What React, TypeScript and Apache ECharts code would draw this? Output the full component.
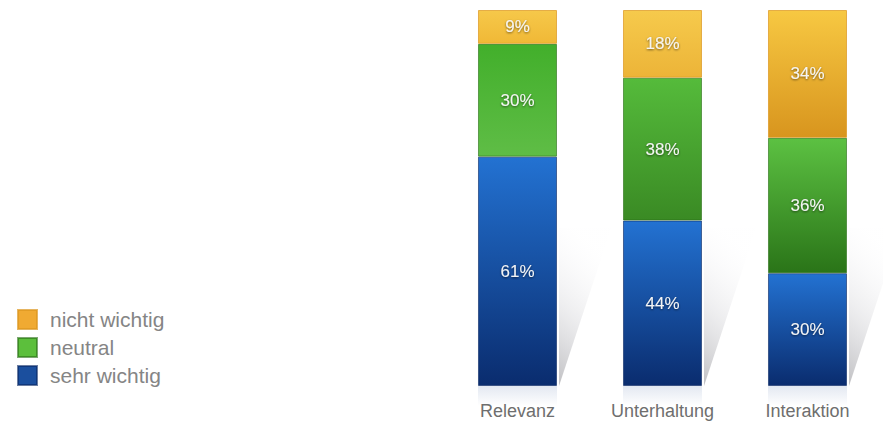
import React, { useEffect, useRef } from "react";
import * as echarts from "echarts";

const CATEGORIES = ["Relevanz", "Unterhaltung", "Interaktion"];
const SEHR_WICHTIG = [61, 44, 30];
const NEUTRAL = [30, 38, 36];
const NICHT_WICHTIG = [9, 18, 34];
const SERIES_NAMES = ["nicht wichtig", "neutral", "sehr wichtig"];

const grad = (top: string, bottom: string) =>
  new echarts.graphic.LinearGradient(0, 0, 0, 1, [
    { offset: 0, color: top },
    { offset: 1, color: bottom },
  ]);

const GREEN_GRADS = [
  ["#42af2b", "#5fbd46"],
  ["#55bb3b", "#3a8a24"],
  ["#5cc142", "#2a7418"],
];
const YELLOW_GRADS = [
  ["#f6c84a", "#f0b836"],
  ["#f6ca4c", "#ecb438"],
  ["#f7c842", "#d8951e"],
];

const FONT = "Liberation Sans, Arial, sans-serif";

export default function App() {
  const ref = useRef<HTMLDivElement>(null);
  useEffect(() => {
    if (!ref.current) return;
    const chart = echarts.init(ref.current, null, { renderer: "svg" });
    const label = {
      show: true,
      position: "inside" as const,
      formatter: "{c}%",
      color: "#f4f4f4",
      fontSize: 17,
      fontFamily: FONT,
      textShadowColor: "rgba(0,0,0,0.55)",
      textShadowBlur: 2,
      textShadowOffsetY: 1,
    };
    const BAR_RATIO = 0.545;
    chart.setOption({
      animation: false,
      backgroundColor: "#ffffff",
      grid: { left: 445, width: 435, top: 10, height: 376, containLabel: false },
      legend: {
        orient: "vertical",
        left: 12,
        top: 304,
        icon: "rect",
        itemWidth: 19,
        itemHeight: 19,
        itemGap: 7,
        textStyle: {
          fontSize: 21,
          color: "#858585",
          fontFamily: FONT,
          padding: [0, 0, 0, 8],
        },
        data: [
          { name: SERIES_NAMES[0], itemStyle: { color: "#f0aa32" } },
          { name: SERIES_NAMES[1], itemStyle: { color: "#5cbf3c" } },
          { name: SERIES_NAMES[2], itemStyle: { color: "#1b4f9e" } },
        ],
        selectedMode: false,
      },
      xAxis: {
        type: "category",
        data: CATEGORIES,
        axisLine: { show: false },
        axisTick: { show: false },
        axisLabel: {
          color: "#6e6e6e",
          fontSize: 18,
          margin: 16,
          fontFamily: FONT,
        },
      },
      yAxis: { type: "value", min: 0, max: 100, show: false, splitLine: { show: false } },
      series: [
        {
          type: "custom",
          name: "shadow",
          z: 1,
          silent: true,
          data: CATEGORIES.map((_, i) => [i]),
          renderItem: (params: any, api: any) => {
            const i = api.value(0);
            const base = api.coord([i, 0]);
            const top = api.coord([i, 42]);
            const band = api.size([1, 0])[0];
            const right = base[0] + (band * BAR_RATIO) / 2 + 2;
            const w = band * 0.36;
            return {
              type: "group",
              children: [
                {
                  type: "polygon",
                  shape: {
                    points: [
                      [right, base[1]],
                      [right, top[1]],
                      [right + w, top[1]],
                    ],
                  },
                  style: {
                    fill: new echarts.graphic.LinearGradient(0, 1, 0.3, 0, [
                      { offset: 0, color: "rgba(150,150,155,0.6)" },
                      { offset: 0.5, color: "rgba(200,200,205,0.3)" },
                      { offset: 1, color: "rgba(245,245,248,0.03)" },
                    ]),
                  },
                },
                {
                  type: "rect",
                  shape: {
                    x: base[0] - (band * BAR_RATIO) / 2,
                    y: base[1],
                    width: band * BAR_RATIO,
                    height: 20,
                  },
                  style: {
                    fill: new echarts.graphic.LinearGradient(0, 0, 0, 1, [
                      { offset: 0, color: "rgba(40,80,150,0.13)" },
                      { offset: 1, color: "rgba(40,80,150,0)" },
                    ]),
                  },
                },
              ],
            };
          },
        },
        {
          name: SERIES_NAMES[2],
          type: "bar",
          stack: "total",
          barWidth: "54.5%",
          z: 2,
          data: SEHR_WICHTIG,
          label,
          itemStyle: {
            color: grad("#2372d2", "#0a2c6e"),
            borderColor: "rgba(10,40,100,0.6)",
            borderWidth: 1,
          },
        },
        {
          name: SERIES_NAMES[1],
          type: "bar",
          stack: "total",
          z: 2,
          data: NEUTRAL.map((v, i) => ({
            value: v,
            itemStyle: { color: grad(GREEN_GRADS[i][0], GREEN_GRADS[i][1]) },
          })),
          label,
          itemStyle: { borderColor: "rgba(40,110,20,0.6)", borderWidth: 1 },
        },
        {
          name: SERIES_NAMES[0],
          type: "bar",
          stack: "total",
          z: 2,
          data: NICHT_WICHTIG.map((v, i) => ({
            value: v,
            itemStyle: { color: grad(YELLOW_GRADS[i][0], YELLOW_GRADS[i][1]) },
          })),
          label,
          itemStyle: { borderColor: "rgba(220,150,30,0.7)", borderWidth: 1 },
        },
      ],
    });
    return () => chart.dispose();
  }, []);
  return (
    <div
      ref={ref}
      style={{ position: "fixed", left: 0, top: 0, width: 883, height: 424 }}
    />
  );
}
